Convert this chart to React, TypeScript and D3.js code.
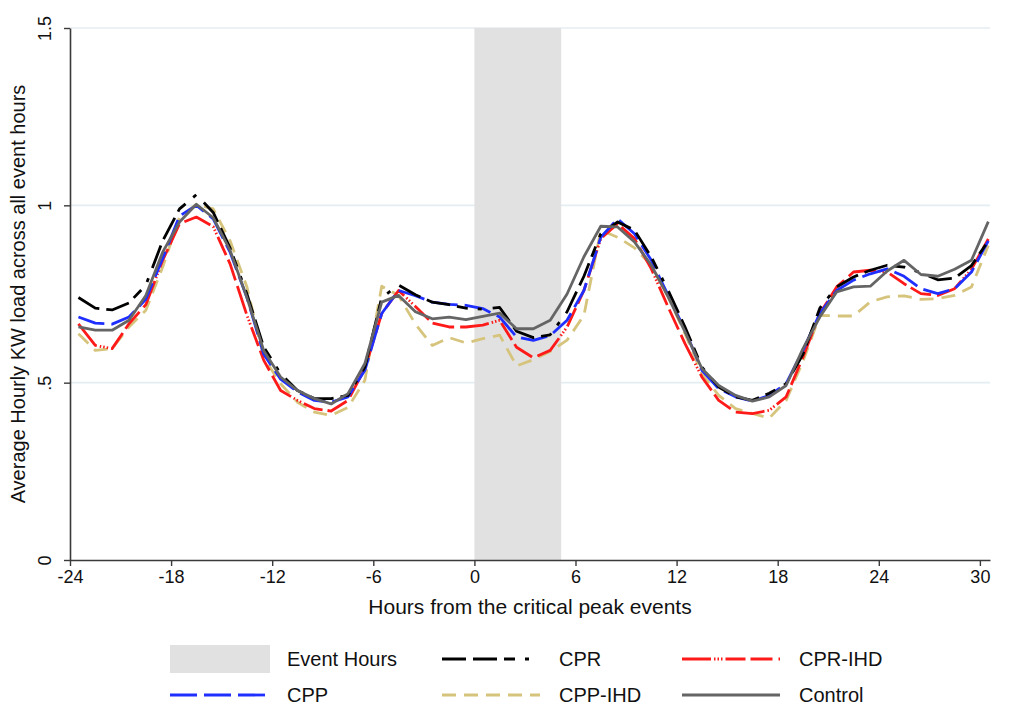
import React, { useEffect, useRef } from 'react';
import * as d3 from 'd3';

// hours from the event start (hourly averages plotted at the half hour)
const hours = [
  -23.5, -22.5, -21.5, -20.5, -19.5, -18.5, -17.5, -16.5, -15.5, -14.5,
  -13.5, -12.5, -11.5, -10.5, -9.5, -8.5, -7.5, -6.5, -5.5, -4.5,
  -3.5, -2.5, -1.5, -0.5, 0.5, 1.5, 2.5, 3.5, 4.5, 5.5,
  6.5, 7.5, 8.5, 9.5, 10.5, 11.5, 12.5, 13.5, 14.5, 15.5,
  16.5, 17.5, 18.5, 19.5, 20.5, 21.5, 22.5, 23.5, 24.5, 25.5,
  26.5, 27.5, 28.5, 29.5, 30.5,
];

const cpr = [
  0.74, 0.71, 0.705, 0.725, 0.775, 0.9, 0.99, 1.03, 0.98, 0.88,
  0.75, 0.6, 0.525, 0.478, 0.455, 0.455, 0.464, 0.544, 0.74, 0.775,
  0.748, 0.727, 0.72, 0.71, 0.707, 0.712, 0.645, 0.627, 0.635, 0.7,
  0.8, 0.92, 0.953, 0.93, 0.854, 0.76, 0.657, 0.544, 0.488, 0.46,
  0.45, 0.47, 0.497, 0.58, 0.71, 0.77, 0.798, 0.817, 0.831, 0.826,
  0.81, 0.79, 0.795, 0.83, 0.9,
];

const cpp = [
  0.685, 0.668, 0.665, 0.685, 0.735, 0.85, 0.97, 1.0, 0.962, 0.868,
  0.74, 0.58, 0.51, 0.474, 0.45, 0.445, 0.46, 0.535, 0.695, 0.76,
  0.745, 0.727, 0.721, 0.718, 0.709, 0.685, 0.629, 0.619, 0.633, 0.676,
  0.76, 0.91, 0.962, 0.92, 0.845, 0.746, 0.648, 0.535, 0.483, 0.46,
  0.448, 0.464, 0.497, 0.591, 0.695, 0.76, 0.789, 0.807, 0.821, 0.8,
  0.765, 0.751, 0.765, 0.812, 0.9,
];

const cprIhd = [
  0.666, 0.605, 0.596, 0.666, 0.72, 0.845, 0.948, 0.967, 0.94, 0.835,
  0.69, 0.563, 0.478, 0.45, 0.427, 0.42, 0.45, 0.54, 0.695, 0.76,
  0.715, 0.668, 0.657, 0.657, 0.662, 0.676, 0.6, 0.57, 0.591, 0.657,
  0.76, 0.906, 0.948, 0.906, 0.821, 0.713, 0.61, 0.516, 0.45, 0.417,
  0.413, 0.422, 0.46, 0.572, 0.695, 0.77, 0.812, 0.817, 0.812, 0.779,
  0.751, 0.746, 0.765, 0.82, 0.905,
];

const cppIhd = [
  0.638, 0.591, 0.596, 0.657, 0.704, 0.826, 0.967, 1.003, 0.99, 0.9,
  0.77, 0.57, 0.497, 0.445, 0.417, 0.408, 0.43, 0.507, 0.772, 0.746,
  0.665, 0.605, 0.627, 0.612, 0.624, 0.634, 0.547, 0.565, 0.588, 0.62,
  0.69, 0.93, 0.91, 0.88, 0.831, 0.742, 0.638, 0.525, 0.464, 0.427,
  0.413, 0.4, 0.45, 0.56, 0.69, 0.688, 0.688, 0.728, 0.742, 0.745,
  0.735, 0.737, 0.746, 0.77, 0.887,
];

const control = [
  0.657, 0.648, 0.648, 0.676, 0.746, 0.868, 0.953, 1.003, 0.965, 0.873,
  0.74, 0.59, 0.516, 0.478, 0.455, 0.44, 0.469, 0.554, 0.727, 0.746,
  0.7, 0.68, 0.685, 0.678, 0.687, 0.696, 0.652, 0.652, 0.676, 0.75,
  0.855, 0.941, 0.939, 0.897, 0.831, 0.742, 0.643, 0.54, 0.492, 0.464,
  0.448, 0.46, 0.492, 0.596, 0.685, 0.756, 0.77, 0.772, 0.815, 0.845,
  0.805, 0.8, 0.82, 0.845, 0.954,
];

const eventWindow = [0, 5.15];
const xTicks = [-24, -18, -12, -6, 0, 6, 12, 18, 24, 30];
const yTicks = [0, 0.5, 1, 1.5];
const yTickLabels = ['0', '.5', '1', '1.5'];

const seriesList = [
  { name: 'CPR', values: cpr, color: '#000000', dash: '24,7,24,7,11,10,4,11' },
  { name: 'CPR-IHD', values: cprIhd, color: '#ff1a1a', dash: '29,3,1.5,2,1.5,2,1.5,3,20,5,22,6' },
  { name: 'CPP', values: cpp, color: '#1f2fff', dash: '27,7' },
  { name: 'CPP-IHD', values: cppIhd, color: '#d6c47c', dash: '14,8' },
  { name: 'Control', values: control, color: '#656565', dash: null },
];

const FONT = 'Liberation Sans, Arial, Helvetica, sans-serif';

export default function App() {
  const svgRef = useRef<SVGSVGElement>(null);

  useEffect(() => {
    const svg = d3.select(svgRef.current);
    svg.selectAll('*').remove();

    const left = 70, right = 990, top = 28, bottom = 560;

    const x = d3.scaleLinear().domain([-24, 30.6]).range([left, right]);
    const y = d3.scaleLinear().domain([0, 1.5]).range([bottom, top]);

    svg.append('rect').attr('width', 1013).attr('height', 719).attr('fill', '#fff');

    // horizontal grid
    svg.append('g')
      .selectAll('line')
      .data(yTicks.filter(d => d > 0))
      .enter()
      .append('line')
      .attr('x1', left)
      .attr('x2', right)
      .attr('y1', d => y(d))
      .attr('y2', d => y(d))
      .attr('stroke', '#e4edf1')
      .attr('stroke-width', 1.6);

    // event hours shading
    svg.append('rect')
      .attr('x', x(eventWindow[0]))
      .attr('width', x(eventWindow[1]) - x(eventWindow[0]))
      .attr('y', top)
      .attr('height', bottom - top)
      .attr('fill', '#e1e1e1');

    const line = d3.line<number>()
      .x((_, i) => x(hours[i]))
      .y(d => y(d));

    // draw control last so it sits on top like in the original
    const drawOrder = ['CPP-IHD', 'CPR-IHD', 'CPP', 'CPR', 'Control'];
    drawOrder.forEach(name => {
      const s = seriesList.find(d => d.name === name)!;
      svg.append('path')
        .datum(s.values)
        .attr('d', line)
        .attr('fill', 'none')
        .attr('stroke', s.color)
        .attr('stroke-width', 2.8)
        .attr('stroke-dasharray', s.dash)
        .attr('stroke-linejoin', 'round');
    });

    // X axis
    const xAxis = svg.append('g')
      .attr('transform', `translate(0,${bottom})`)
      .call(d3.axisBottom(x).tickValues(xTicks).tickSize(6).tickSizeOuter(0).tickFormat(d => String(d)));
    xAxis.select('.domain').attr('stroke', '#3a3a3a').attr('stroke-width', 1.6);
    xAxis.selectAll('.tick line').attr('stroke', '#3a3a3a').attr('stroke-width', 1.4);
    xAxis.selectAll('.tick text')
      .attr('y', 10)
      .style('font-family', FONT)
      .style('font-size', '18px')
      .attr('fill', '#111');

    // Y axis
    const yAxis = svg.append('g')
      .attr('transform', `translate(${left},0)`)
      .call(d3.axisLeft(y).tickValues(yTicks).tickSize(6).tickSizeOuter(0)
        .tickFormat((_, i) => yTickLabels[i]));
    yAxis.select('.domain').attr('stroke', '#3a3a3a').attr('stroke-width', 1.6);
    yAxis.selectAll('.tick line').attr('stroke', '#3a3a3a').attr('stroke-width', 1.4);
    yAxis.selectAll('.tick text')
      .attr('x', 0)
      .attr('dy', 0)
      .attr('text-anchor', 'middle')
      .attr('transform', 'translate(-19,0) rotate(-90)')
      .style('font-family', FONT)
      .style('font-size', '18px')
      .attr('fill', '#111');

    // axis titles
    svg.append('text')
      .attr('x', (left + right) / 2)
      .attr('y', 614)
      .attr('text-anchor', 'middle')
      .style('font-family', FONT)
      .style('font-size', '21px')
      .attr('fill', '#111')
      .text('Hours from the critical peak events');

    svg.append('text')
      .attr('transform', `translate(25,${(top + bottom) / 2}) rotate(-90)`)
      .attr('text-anchor', 'middle')
      .style('font-family', FONT)
      .style('font-size', '20px')
      .attr('fill', '#111')
      .text('Average Hourly KW load across all event hours');

    // legend
    const legend = svg.append('g');
    const cols = [170, 442, 682];
    const rows = [659, 695];
    const items = [
      { name: 'Event Hours', box: true },
      { name: 'CPR' },
      { name: 'CPR-IHD' },
      { name: 'CPP' },
      { name: 'CPP-IHD' },
      { name: 'Control' },
    ];
    items.forEach((it, i) => {
      const cx = cols[i % 3];
      const cy = rows[Math.floor(i / 3)];
      if ((it as any).box) {
        legend.append('rect')
          .attr('x', cx).attr('y', cy - 14)
          .attr('width', 100).attr('height', 28)
          .attr('fill', '#e1e1e1');
      } else {
        const s = seriesList.find(d => d.name === it.name)!;
        legend.append('line')
          .attr('x1', cx).attr('x2', cx + 98)
          .attr('y1', cy).attr('y2', cy)
          .attr('stroke', s.color)
          .attr('stroke-width', 2.8)
          .attr('stroke-dasharray', s.dash);
      }
      legend.append('text')
        .attr('x', cx + 117)
        .attr('y', cy + 7)
        .style('font-family', FONT)
        .style('font-size', '20px')
        .attr('fill', '#111')
        .text(it.name);
    });
  }, []);

  return (
    <div style={{ position: 'absolute', left: 0, top: 0 }}>
      <svg ref={svgRef} width={1013} height={719}></svg>
    </div>
  );
}
